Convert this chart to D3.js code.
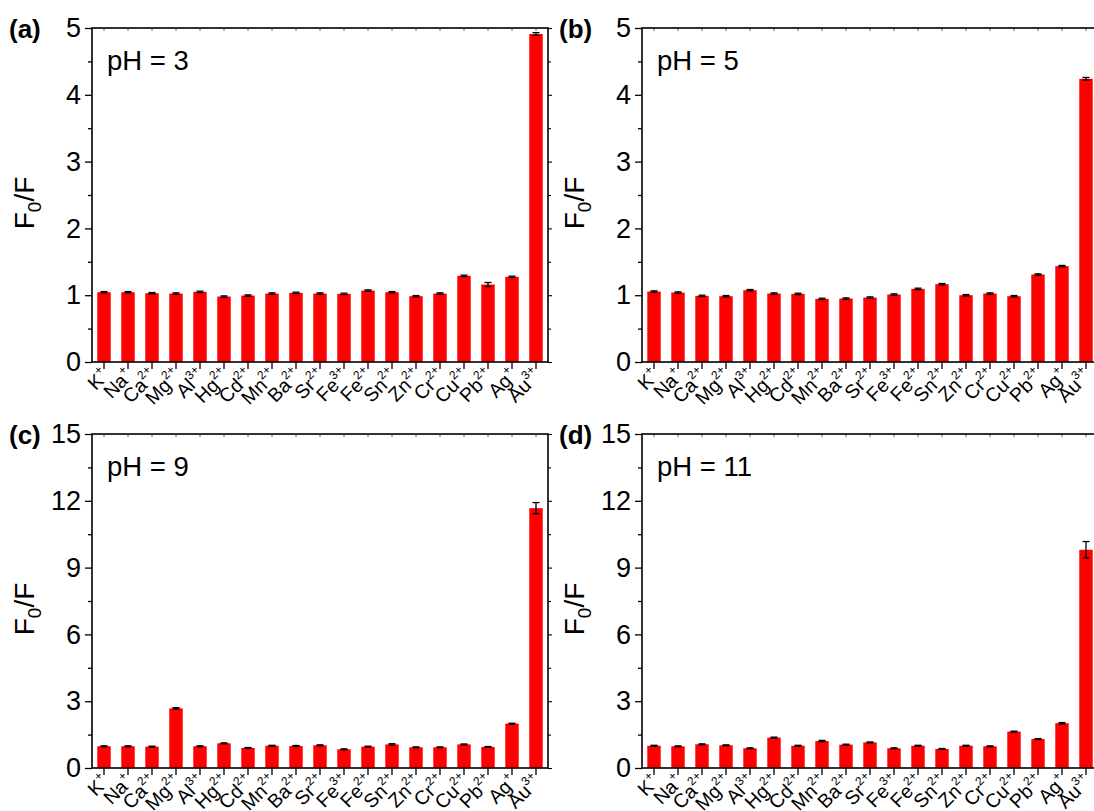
<!DOCTYPE html>
<html>
<head>
<meta charset="utf-8">
<script src="https://cdn.jsdelivr.net/npm/d3@7"></script>
<style>
  html, body { margin: 0; padding: 0; background: #fff; }
  svg { display: block; font-family: "Liberation Sans", Arial, sans-serif; }
</style>
</head>
<body>
<svg id="chart" width="1094" height="811"></svg>
<script>
// ---------- data ----------
const ions    = ["K","Na","Ca","Mg","Al","Hg","Cd","Mn","Ba","Sr","Fe","Fe","Sn","Zn","Cr","Cu","Pb","Ag","Au"];
const charges = ["+","+","2+","2+","3+","2+","2+","2+","2+","2+","3+","2+","2+","2+","2+","2+","2+","+","3+"];

const pH3  = [1.045,1.045,1.03,1.025,1.05,0.98,0.995,1.025,1.035,1.025,1.02,1.07,1.045,0.985,1.025,1.29,1.16,1.275,4.91];
const err3 = [0.01,0.01,0.01,0.01,0.01,0.01,0.01,0.01,0.01,0.01,0.01,0.01,0.01,0.01,0.01,0.01,0.03,0.01,0.02];

const pH5  = [1.055,1.04,0.99,0.985,1.075,1.025,1.02,0.945,0.95,0.965,1.01,1.095,1.165,1.0,1.025,0.985,1.31,1.435,4.24];
const err5 = [0.01,0.01,0.01,0.01,0.01,0.01,0.01,0.01,0.01,0.01,0.01,0.01,0.01,0.01,0.01,0.01,0.01,0.01,0.02];

const pH9  = [0.975,0.975,0.96,2.68,0.975,1.11,0.9,1.0,0.99,1.02,0.84,0.96,1.06,0.93,0.93,1.06,0.945,1.99,11.67];
const err9 = [0.02,0.02,0.02,0.03,0.02,0.02,0.02,0.02,0.02,0.02,0.02,0.02,0.03,0.02,0.02,0.02,0.02,0.02,0.25];

const pH11  = [1.0,0.975,1.065,1.02,0.885,1.365,1.0,1.21,1.05,1.15,0.885,1.0,0.855,1.0,0.975,1.635,1.3,2.01,9.8];
const err11 = [0.02,0.02,0.02,0.02,0.02,0.02,0.02,0.03,0.02,0.02,0.02,0.02,0.02,0.02,0.02,0.02,0.02,0.03,0.37];

const panels = [
  {tag:"(a)", ph:"pH = 3",  values:pH3,  errors:err3,  yMax:5,  major:[0,1,2,3,4,5],     minor:[0.5,1.5,2.5,3.5,4.5]},
  {tag:"(b)", ph:"pH = 5",  values:pH5,  errors:err5,  yMax:5,  major:[0,1,2,3,4,5],     minor:[0.5,1.5,2.5,3.5,4.5]},
  {tag:"(c)", ph:"pH = 9",  values:pH9,  errors:err9,  yMax:15, major:[0,3,6,9,12,15],   minor:[1.5,4.5,7.5,10.5,13.5]},
  {tag:"(d)", ph:"pH = 11", values:pH11, errors:err11, yMax:15, major:[0,3,6,9,12,15],   minor:[1.5,4.5,7.5,10.5,13.5]}
];

// ---------- layout ----------
const boxes = [
  {x0:92,  x1:548,  y0:28,  y1:362},
  {x0:642, x1:1098, y0:28,  y1:362},
  {x0:92,  x1:548,  y0:434, y1:768},
  {x0:642, x1:1098, y0:434, y1:768}
];

const svg = d3.select("#chart");

panels.forEach((p, i) => {
  const b = boxes[i];
  const g = svg.append("g");
  const x = d3.scaleBand().domain(d3.range(ions.length)).range([b.x0, b.x1])
              .paddingInner(0.44).paddingOuter(0.22);
  const y = d3.scaleLinear().domain([0, p.yMax]).range([b.y1, b.y0]);

  // bars
  g.selectAll("rect.bar").data(p.values).join("rect")
    .attr("class","bar")
    .attr("x", (d,k) => x(k))
    .attr("width", x.bandwidth())
    .attr("y", d => y(d))
    .attr("height", d => y(0) - y(d))
    .attr("fill", "#ff0000");

  // error bars
  const eb = g.selectAll("g.err").data(p.values).join("g").attr("class","err");
  const cx = k => x(k) + x.bandwidth()/2;
  eb.append("line")
    .attr("x1",(d,k)=>cx(k)).attr("x2",(d,k)=>cx(k))
    .attr("y1",(d,k)=>y(d + p.errors[k])).attr("y2",(d,k)=>y(d - p.errors[k]))
    .attr("stroke","#000").attr("stroke-width",1.3);
  ["top","bot"].forEach(s => {
    eb.append("line")
      .attr("x1",(d,k)=>cx(k)-3.5).attr("x2",(d,k)=>cx(k)+3.5)
      .attr("y1",(d,k)=>y(s==="top" ? d + p.errors[k] : d - p.errors[k]))
      .attr("y2",(d,k)=>y(s==="top" ? d + p.errors[k] : d - p.errors[k]))
      .attr("stroke","#000").attr("stroke-width",1.3);
  });

  // left axis
  const left = d3.axisLeft(y).tickValues(p.major).tickSize(7).tickPadding(4).tickFormat(d3.format("d"));
  const la = g.append("g").attr("transform",`translate(${b.x0},0)`).call(left);
  la.select(".domain").remove();
  la.selectAll("text").attr("font-size",27).attr("fill","#000").attr("font-family","Liberation Sans, Arial, sans-serif");
  la.selectAll("line").attr("stroke","#000").attr("stroke-width",1.3);
  const lm = d3.axisLeft(y).tickValues(p.minor).tickSize(4).tickFormat("");
  const lma = g.append("g").attr("transform",`translate(${b.x0},0)`).call(lm);
  lma.select(".domain").remove();
  lma.selectAll("line").attr("stroke","#000").attr("stroke-width",1.3);

  // right axis (mirror ticks)
  const right = d3.axisRight(y).tickValues(p.major).tickSize(4).tickFormat("");
  const ra = g.append("g").attr("transform",`translate(${b.x1},0)`).call(right);
  ra.select(".domain").remove();
  ra.selectAll("line").attr("stroke","#000").attr("stroke-width",1.1);
  const rm = d3.axisRight(y).tickValues(p.minor).tickSize(3).tickFormat("");
  const rma = g.append("g").attr("transform",`translate(${b.x1},0)`).call(rm);
  rma.select(".domain").remove();
  rma.selectAll("line").attr("stroke","#000").attr("stroke-width",1.1);

  // top axis ticks (inward)
  const top = d3.axisBottom(x).tickSize(3).tickFormat("");
  const ta = g.append("g").attr("transform",`translate(0,${b.y0})`).call(top);
  ta.select(".domain").remove();
  ta.selectAll("line").attr("stroke","#666").attr("stroke-width",1);

  // bottom axis
  const bottom = d3.axisBottom(x).tickSize(7).tickFormat("");
  const ba = g.append("g").attr("transform",`translate(0,${b.y1})`).call(bottom);
  ba.select(".domain").remove();
  ba.selectAll("line").attr("stroke","#000").attr("stroke-width",1.3);

  // frame
  g.append("rect").attr("x",b.x0).attr("y",b.y0).attr("width",b.x1-b.x0).attr("height",b.y1-b.y0)
    .attr("fill","none").attr("stroke","#000").attr("stroke-width",1.6);

  // x tick labels (rotated)
  const lbl = g.selectAll("text.xl").data(ions).join("text")
    .attr("class","xl")
    .attr("text-anchor","end")
    .attr("font-size",19.5)
    .attr("fill","#000")
    .attr("transform",(d,k)=>`translate(${cx(k)+6},${b.y1+15}) rotate(-45)`);
  lbl.append("tspan").text(d => d);
  lbl.append("tspan").attr("font-size",12).attr("dy",-9).text((d,k)=>charges[k]);

  // y title
  const yt = g.append("text")
    .attr("transform",`translate(${b.x0-58},${(b.y0+b.y1)/2+8}) rotate(-90)`)
    .attr("text-anchor","middle").attr("font-size",28).attr("fill","#000");
  yt.append("tspan").text("F");
  yt.append("tspan").attr("font-size",19).attr("dy",7).text("0");
  yt.append("tspan").attr("dy",-7).text("/F");

  // pH annotation
  g.append("text").attr("x",b.x0+15).attr("y",b.y0+42)
    .attr("font-size",27.5).attr("fill","#000").text(p.ph);

  // panel tag
  g.append("text").attr("x",b.x0-83).attr("y",b.y0+10)
    .attr("font-size",26).attr("font-weight","bold").attr("fill","#000").text(p.tag);
});
</script>
</body>
</html>
